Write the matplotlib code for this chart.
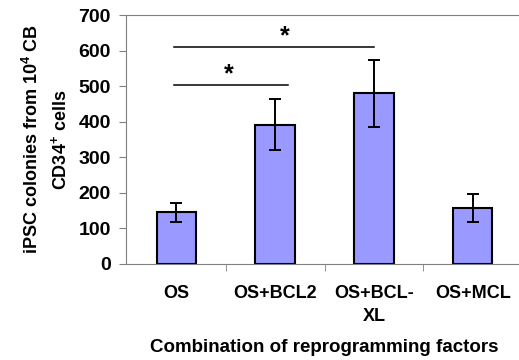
import matplotlib.pyplot as plt

plt.rcParams['font.family'] = ['Liberation Sans', 'DejaVu Sans']
plt.rcParams['font.weight'] = 'bold'
plt.rcParams['mathtext.fontset'] = 'custom'
plt.rcParams['mathtext.rm'] = 'Liberation Sans:bold'
plt.rcParams['mathtext.bf'] = 'Liberation Sans:bold'

# data
categories = ['OS', 'OS+BCL2', 'OS+BCL-\nXL', 'OS+MCL']
values = [145, 392, 480, 158]
errors = [27, 72, 94, 40]

fig = plt.figure(figsize=(5.19, 3.6), dpi=100)
ax = fig.add_axes([0.243, 0.267, 0.763, 0.691])

x = range(len(categories))
ax.bar(x, values, width=0.4, color='#9999FF', edgecolor='black', linewidth=1.5,
       yerr=errors, error_kw=dict(ecolor='black', elinewidth=1.4, capsize=4, capthick=1.4))

# significance brackets
ax.plot([-0.03, 2.0], [610, 610], color='black', lw=1.1)
ax.text(1.1, 608, '*', ha='center', va='bottom', fontsize=18)
ax.plot([-0.03, 1.13], [503, 503], color='black', lw=1.1)
ax.text(0.53, 501, '*', ha='center', va='bottom', fontsize=18)

ax.set_xlim(-0.51, 3.5)
ax.set_ylim(0, 700)
ax.set_yticks(range(0, 701, 100))
ax.set_xticks(list(x))
ax.set_xticklabels(categories, fontsize=13, fontweight='bold', linespacing=1.5)
ax.set_xticks([0.5, 1.5, 2.5], minor=True)
ax.tick_params(axis='x', which='major', length=0, pad=15)
ax.tick_params(axis='x', which='minor', length=5, color='#808080')
ax.tick_params(axis='y', length=5, color='#808080', labelsize=14, pad=6)
for lab in ax.get_yticklabels():
    lab.set_fontweight('bold')

for s in ax.spines.values():
    s.set_color('#808080')

ax.set_ylabel('iPSC colonies from 10$^{4}$ CB\nCD34$^{+}$ cells', fontsize=13,
              fontweight='bold', linespacing=1.5, labelpad=6)
ax.set_xlabel('Combination of reprogramming factors', fontsize=13.5,
              fontweight='bold', labelpad=10)

fig.savefig('out.png', dpi=100)
